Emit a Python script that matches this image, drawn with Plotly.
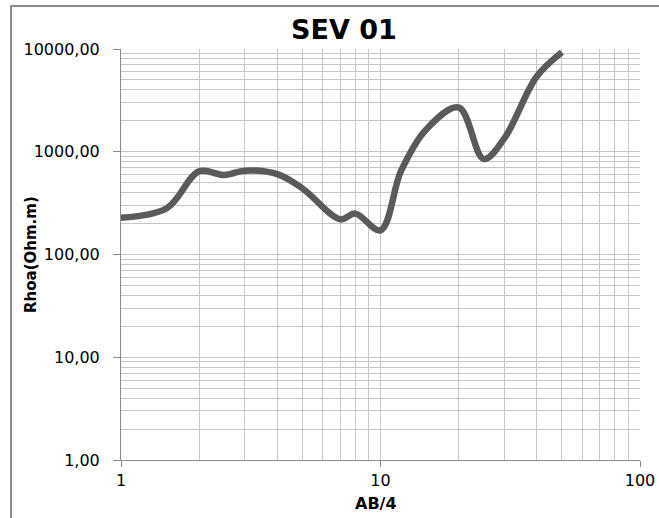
import plotly.graph_objects as go

# Apparent resistivity sounding curve SEV 01
ab4 = [1, 1.5, 2, 2.5, 3, 4, 5, 7, 8, 10, 12, 15, 20, 25, 30, 40, 50]
rhoa = [228, 282, 645, 595, 655, 605, 440, 220, 250, 172, 650, 1650, 2700, 850, 1350, 5400, 9300]

x_ticks = [1, 10, 100]
x_ticktext = ["1", "10", "100"]
y_ticks = [1, 10, 100, 1000, 10000]
y_ticktext = ["1,00", "10,00", "100,00", "1000,00", "10000,00"]

x_minor = [m * d for d in (1, 10) for m in range(2, 10)]
y_minor = [m * d for d in (1, 10, 100, 1000) for m in range(2, 10)]

grid_col = "#c6c6c6"
axis_col = "#8a8a8a"
font_family = "DejaVu Sans"

fig = go.Figure()
fig.add_trace(go.Scatter(
    x=ab4, y=rhoa, mode="lines",
    line=dict(color="#5a5a5a", width=6.5, shape="spline", smoothing=1.0),
    showlegend=False, hoverinfo="x+y",
))

fig.update_xaxes(
    type="log", range=[0, 2], automargin=False,
    tickvals=x_ticks, ticktext=x_ticktext,
    ticks="outside", ticklen=6, tickcolor=axis_col, tickwidth=1,
    showline=True, linecolor=axis_col, linewidth=1,
    showgrid=True, gridcolor=grid_col, gridwidth=1,
    minor=dict(tickvals=x_minor, showgrid=True, gridcolor=grid_col, gridwidth=1, ticklen=0),
    tickfont=dict(family=font_family, size=16, color="#000000"),
    zeroline=False,
)
fig.update_yaxes(
    type="log", range=[0, 4], automargin=False,
    tickvals=y_ticks, ticktext=y_ticktext,
    ticks="outside", ticklen=7, tickcolor=axis_col, tickwidth=1,
    showline=True, linecolor=axis_col, linewidth=1,
    showgrid=True, gridcolor=grid_col, gridwidth=1,
    minor=dict(tickvals=y_minor, showgrid=True, gridcolor=grid_col, gridwidth=1, ticklen=0),
    tickfont=dict(family=font_family, size=16, color="#000000"),
    ticklabelstandoff=10,
    zeroline=False,
)

L, R, T, B = 121, 19, 49, 58
W, H = 659, 518
pw, ph = W - L - R, H - T - B

def px_x(p):
    return (p - L) / pw

def px_y(p):
    return (H - B - p) / ph

fig.update_layout(
    width=W, height=H, autosize=False,
    margin=dict(l=L, r=R, t=T, b=B, autoexpand=False),
    paper_bgcolor="white", plot_bgcolor="white",
    font=dict(family=font_family, color="#000000"),
    shapes=[dict(
        type="rect", xref="paper", yref="paper",
        x0=px_x(11), x1=px_x(700), y0=px_y(560), y1=px_y(6),
        line=dict(color="#8c8c8c", width=2), fillcolor="rgba(0,0,0,0)", layer="below",
    )],
    annotations=[
        dict(text="<b>SEV 01</b>", xref="paper", yref="paper",
             x=px_x(344), y=px_y(30), xanchor="center", yanchor="middle",
             showarrow=False, font=dict(family=font_family, size=27, color="#000000")),
        dict(text="<b>Rhoa(Ohm.m)</b>", xref="paper", yref="paper",
             x=px_x(31), y=px_y(255), xanchor="center", yanchor="middle", textangle=-90,
             showarrow=False, font=dict(family=font_family, size=15, color="#000000")),
        dict(text="<b>AB/4</b>", xref="paper", yref="paper",
             x=px_x(376), y=px_y(503), xanchor="center", yanchor="middle",
             showarrow=False, font=dict(family=font_family, size=16, color="#000000")),
    ],
)

fig.write_html("out.html")
